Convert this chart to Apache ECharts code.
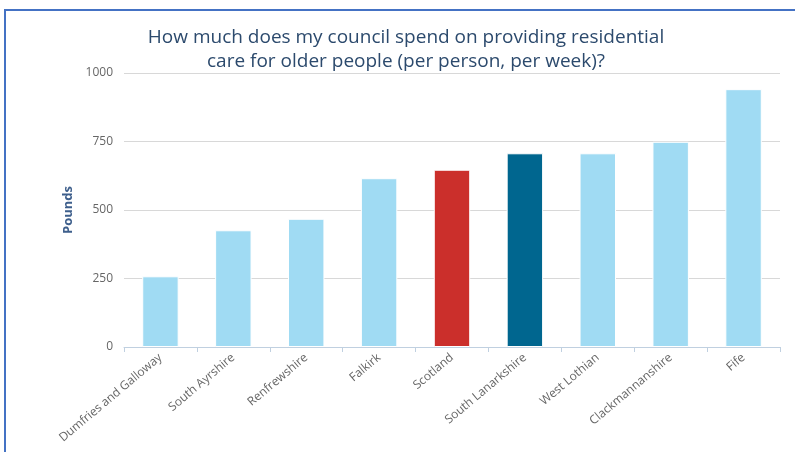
<!DOCTYPE html>
<html>
<head>
<meta charset="utf-8">
<script src="https://cdn.jsdelivr.net/npm/echarts@6/dist/echarts.min.js"></script>
<style>
  html, body { margin: 0; padding: 0; background: #fff; }
  #chart { width: 795px; height: 452px; }
</style>
</head>
<body>
<div id="chart"></div>
<script>
// council names along the x axis
var councils = [
  "Dumfries and Galloway", "South Ayrshire", "Renfrewshire", "Falkirk",
  "Scotland", "South Lanarkshire", "West Lothian", "Clackmannanshire", "Fife"
];
// weekly spend per person, pounds
var spend = [258, 426, 468, 616, 647, 707, 707, 749, 941];
// bar colours: scotland average in red, own council in dark blue
var barColors = [
  "#a0dbf3", "#a0dbf3", "#a0dbf3", "#a0dbf3",
  "#cb2f2b", "#00668f", "#a0dbf3", "#a0dbf3", "#a0dbf3"
];
var yTicks = [0, 250, 500, 750, 1000];

var myChart = echarts.init(document.getElementById("chart"));

var option = {
  animation: false,
  textStyle: { fontFamily: "Open Sans" },
  title: {
    text: "How much does my council spend on providing residential\ncare for older people (per person, per week)?",
    left: 406,
    top: 26,
    padding: 0,
    textAlign: "center",
    textStyle: {
      fontFamily: "Open Sans",
      fontSize: 19,
      fontWeight: "normal",
      color: "#2c4a6d",
      lineHeight: 24
    }
  },
  graphic: [
    {
      // frame round the chart
      type: "rect",
      shape: { x: 5, y: 10, width: 900, height: 900 },
      style: { fill: "none", stroke: "#4472c4", lineWidth: 2 },
      silent: true
    }
  ],
  grid: {
    left: 124,
    right: 15,
    top: 73,
    bottom: 105,
    containLabel: false
  },
  xAxis: {
    type: "category",
    data: councils,
    axisLine: { lineStyle: { color: "#c0d0e0", width: 1 } },
    axisTick: { show: true, length: 5, lineStyle: { color: "#c0d0e0" } },
    axisLabel: {
      rotate: 40,
      interval: 0,
      margin: 9,
      fontSize: 12,
      color: "#666666",
      fontFamily: "Open Sans"
    }
  },
  yAxis: {
    type: "value",
    min: yTicks[0],
    max: yTicks[yTicks.length - 1],
    interval: 250,
    name: "Pounds",
    nameLocation: "middle",
    nameRotate: 90,
    nameGap: 49,
    nameTextStyle: {
      fontFamily: "Open Sans",
      fontSize: 13,
      fontWeight: "bold",
      color: "#3e5f8c"
    },
    axisLine: { show: false },
    axisTick: { show: false },
    axisLabel: {
      margin: 11,
      fontSize: 12,
      color: "#666666",
      fontFamily: "Open Sans",
      formatter: function (v) { return String(v); }
    },
    splitLine: { lineStyle: { color: "#d8d8d8", width: 1 } }
  },
  series: [
    {
      type: "bar",
      barCategoryGap: "50%",
      data: spend.map(function (v, i) {
        return { value: v, itemStyle: { color: barColors[i] } };
      }),
      itemStyle: { borderColor: "#ffffff", borderWidth: 1 }
    }
  ]
};

myChart.setOption(option);
</script>
</body>
</html>
